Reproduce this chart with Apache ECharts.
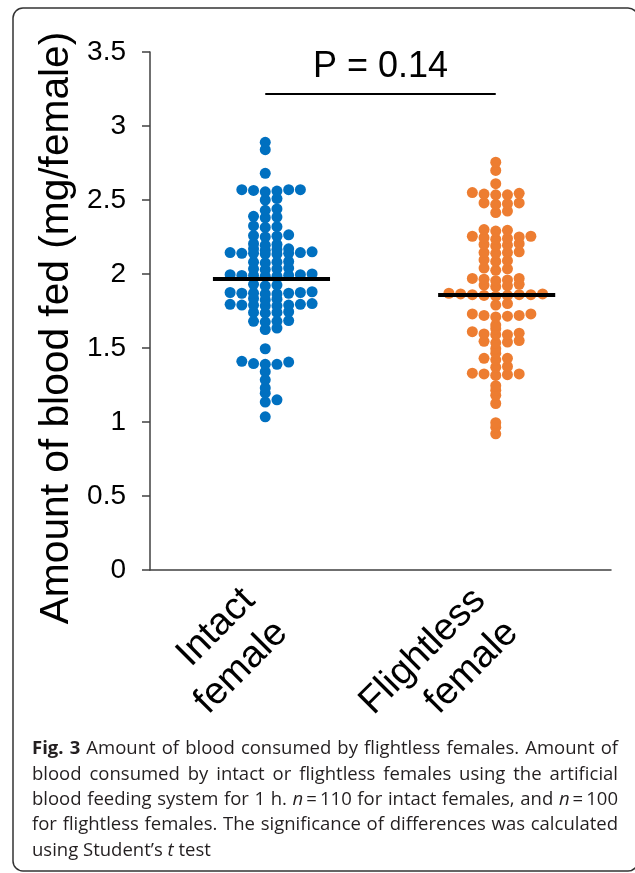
<!DOCTYPE html>
<html><head><meta charset="utf-8">
<script src="https://cdn.jsdelivr.net/npm/echarts@6/dist/echarts.min.js"></script>
<style>html,body{margin:0;padding:0;background:#fff}#c{width:635px;height:873px}</style>
</head><body><div id="c"></div>
<script>
// ---- data ----
const categories = ['Intact\nfemale', 'Flightless\nfemale'];
const intactValues = [
  2.89, 2.84, 2.68,
  2.555, 2.56, 2.565, 2.57, 2.57, 2.57,
  2.50, 2.51,
  2.43, 2.44,
  2.38, 2.385, 2.39,
  2.315, 2.32, 2.325,
  2.25, 2.255, 2.26, 2.265,
  2.195, 2.20, 2.205,
  2.16, 2.165, 2.17, 2.17,
  2.135, 2.135, 2.14, 2.14, 2.14, 2.145, 2.145, 2.15,
  2.075, 2.08, 2.08, 2.085,
  2.03, 2.035, 2.035, 2.04,
  1.985, 1.985, 1.99, 1.99, 1.99, 1.995, 1.995, 2.0,
  1.92, 1.925, 1.93,
  1.865, 1.865, 1.87, 1.87, 1.87, 1.875, 1.875, 1.88,
  1.825, 1.83, 1.835,
  1.785, 1.785, 1.79, 1.79, 1.79, 1.795, 1.795, 1.80,
  1.735, 1.74, 1.74, 1.745,
  1.675, 1.68, 1.68, 1.685,
  1.625, 1.635,
  1.495,
  1.39, 1.39, 1.395, 1.405, 1.41,
  1.34, 1.285, 1.23, 1.195, 1.135, 1.15, 1.035
];
const flightlessValues = [
  2.755, 2.70, 2.61,
  2.535, 2.535, 2.54, 2.545, 2.55,
  2.47, 2.475, 2.48, 2.48,
  2.415, 2.425,
  2.29, 2.295, 2.30,
  2.235, 2.24, 2.245, 2.25, 2.255, 2.255,
  2.19, 2.195, 2.20, 2.205,
  2.14, 2.145, 2.145, 2.15,
  2.085, 2.09, 2.095,
  2.025, 2.035, 2.04,
  1.955, 1.96, 1.965, 1.97, 1.97,
  1.915, 1.92, 1.925, 1.93,
  1.85, 1.855, 1.855, 1.86, 1.86, 1.86, 1.865, 1.865, 1.87,
  1.79, 1.80,
  1.71, 1.715, 1.72, 1.72, 1.73, 1.73,
  1.655, 1.63,
  1.59, 1.59, 1.595, 1.60, 1.61,
  1.535, 1.54, 1.545, 1.55,
  1.495, 1.465,
  1.42, 1.43, 1.43,
  1.37, 1.375,
  1.315, 1.32, 1.325, 1.325, 1.33,
  1.245, 1.215, 1.18, 1.125, 0.995, 0.965, 0.92
];
const groupMeans = [1.965, 1.857];
const pValueLabel = 'P = 0.14';
const pBracketY = 3.22;
const yMin = 0, yMax = 3.5, yInterval = 0.5;
const yAxisTitle = 'Amount of blood fed (mg/female)';
const captionLines = [
  '{b|Fig. 3} Amount of blood consumed by flightless females. Amount of',
  'blood consumed by intact or flightless females using the artificial',
  'blood feeding system for 1 h. {i|n}\u2009=\u2009110 for intact females, and {i|n}\u2009=\u2009100',
  'for flightless females. The significance of differences was calculated',
  'using Student\u2019s {i|t} test'
];

// ---- layout helpers (row-based dot plot) ----
const COL_STEP = 0.0508;   // horizontal spacing of dot columns, in x-axis units
const ROW_TOL = 0.02;      // values closer than this share a row
function swarm(values, center) {
  const sorted = values.slice().sort((a, b) => a - b);
  const out = [];
  let row = [];
  const flush = () => {
    row.forEach((v, i) => {
      const k = i === 0 ? 0 : (i % 2 === 1 ? (i + 1) / 2 : -(i / 2));
      out.push([center + k * COL_STEP, v]);
    });
    row = [];
  };
  sorted.forEach(v => {
    if (row.length && v - row[0] > ROW_TOL + 1e-9) flush();
    row.push(v);
  });
  flush();
  return out;
}

const centers = [0.5, 1.5];
const lineCenters = [0.527, 1.504];
const HALF = 0.254;
const colors = ['#0070C0', '#ED7D31'];
const FONT = 'Liberation Sans, Arial, sans-serif';
const CAP_FONT = 18.5;
const CAP_LEFT = 32, CAP_RIGHT = 618, CAP_TOP = 749, CAP_LH = 25.4;
const CAP_COLOR = '#231f20';

// ---- justified caption text built from the caption strings ----
const measureCtx = document.createElement('canvas').getContext('2d');
function capFont(style) {
  const pre = style === 'b' ? 'bold ' : style === 'i' ? 'italic ' : '';
  return pre + CAP_FONT + 'px "Open Sans"';
}
function measure(text, style) {
  measureCtx.font = capFont(style);
  return measureCtx.measureText(text).width;
}
function parseWords(str) {
  const segs = [];
  const re = /\{(\w)\|([^}]*)\}|([^{]+)/g;
  let m;
  while ((m = re.exec(str))) {
    if (m[3] !== undefined) segs.push({ s: '', t: m[3] });
    else segs.push({ s: m[1], t: m[2] });
  }
  const words = [];
  let cur = [];
  segs.forEach(seg => {
    const parts = seg.t.split(' ');
    parts.forEach((p, idx) => {
      if (idx > 0) { if (cur.length) words.push(cur); cur = []; }
      if (p.length) cur.push({ s: seg.s, t: p });
    });
  });
  if (cur.length) words.push(cur);
  return words;
}
function captionGraphics() {
  const els = [];
  captionLines.forEach((line, li) => {
    const words = parseWords(line);
    const widths = words.map(w => w.reduce((a, p) => a + measure(p.t, p.s), 0));
    const total = widths.reduce((a, b) => a + b, 0);
    const last = li === captionLines.length - 1;
    const gap = last ? measure(' ', '') : (CAP_RIGHT - CAP_LEFT - total) / (words.length - 1);
    let x = CAP_LEFT;
    const y = CAP_TOP + li * CAP_LH;
    words.forEach((w) => {
      w.forEach(p => {
        els.push({ type: 'text', x: x, y: y, silent: true,
          style: { text: p.t, font: capFont(p.s), fill: CAP_COLOR, textAlign: 'left', textVerticalAlign: 'middle' } });
        x += measure(p.t, p.s);
      });
      x += gap;
    });
  });
  return els;
}

function meanLine(i) {
  return [
    { coord: [lineCenters[i] - HALF, groupMeans[i]], lineStyle: { color: '#000', width: 4, type: 'solid' }, label: { show: false } },
    { coord: [lineCenters[i] + HALF, groupMeans[i]] }
  ];
}

const chart = echarts.init(document.getElementById('c'), null, { renderer: 'canvas' });
chart.setOption({
  animation: false,
  backgroundColor: '#fff',
  grid: { left: 150, right: 24, top: 52, bottom: 303, containLabel: false },
  xAxis: [
    {
      type: 'category', data: categories, position: 'bottom',
      axisLine: { show: true, lineStyle: { color: '#404040', width: 1.5 } },
      axisTick: { show: false },
      splitLine: { show: false },
      axisLabel: { rotate: 45, fontSize: 38, lineHeight: 46, color: '#000', fontFamily: FONT, margin: 41, interval: 0 }
    },
    { type: 'value', min: 0, max: 2, show: false }
  ],
  yAxis: {
    type: 'value', min: yMin, max: yMax, interval: yInterval,
    axisLine: { show: true, lineStyle: { color: '#404040', width: 1.5 } },
    axisTick: { show: true, inside: false, length: 8, lineStyle: { color: '#404040', width: 1.5 } },
    splitLine: { show: false },
    axisLabel: { fontSize: 28, color: '#000', fontFamily: FONT, margin: 24 }
  },
  series: [
    {
      type: 'scatter', xAxisIndex: 1, symbol: 'circle', symbolSize: 11,
      itemStyle: { color: colors[0], opacity: 1 },
      data: swarm(intactValues, centers[0]),
      markLine: {
        silent: true, symbol: ['none', 'none'],
        data: [
          meanLine(0),
          [
            { coord: [centers[0], pBracketY], lineStyle: { color: '#000', width: 2, type: 'solid' },
              label: { show: true, position: 'middle', formatter: pValueLabel, fontSize: 36, color: '#000', fontFamily: FONT, distance: 8 } },
            { coord: [centers[1], pBracketY] }
          ]
        ]
      },
      z: 2
    },
    {
      type: 'scatter', xAxisIndex: 1, symbol: 'circle', symbolSize: 11,
      itemStyle: { color: colors[1], opacity: 1 },
      data: swarm(flightlessValues, centers[1]),
      markLine: { silent: true, symbol: ['none', 'none'], data: [meanLine(1)] },
      z: 2
    }
  ],
  graphic: [
    { type: 'rect', shape: { x: 13, y: 8, width: 625, height: 863, r: 10 }, style: { fill: 'none', stroke: '#333', lineWidth: 1.5 }, z: 0 },
    { type: 'text', x: 57, y: 328, rotation: Math.PI / 2,
      style: { text: yAxisTitle, font: '40.7px ' + FONT, fill: '#000', textAlign: 'center', textVerticalAlign: 'middle' } }
  ].concat(captionGraphics())
});
</script></body></html>
